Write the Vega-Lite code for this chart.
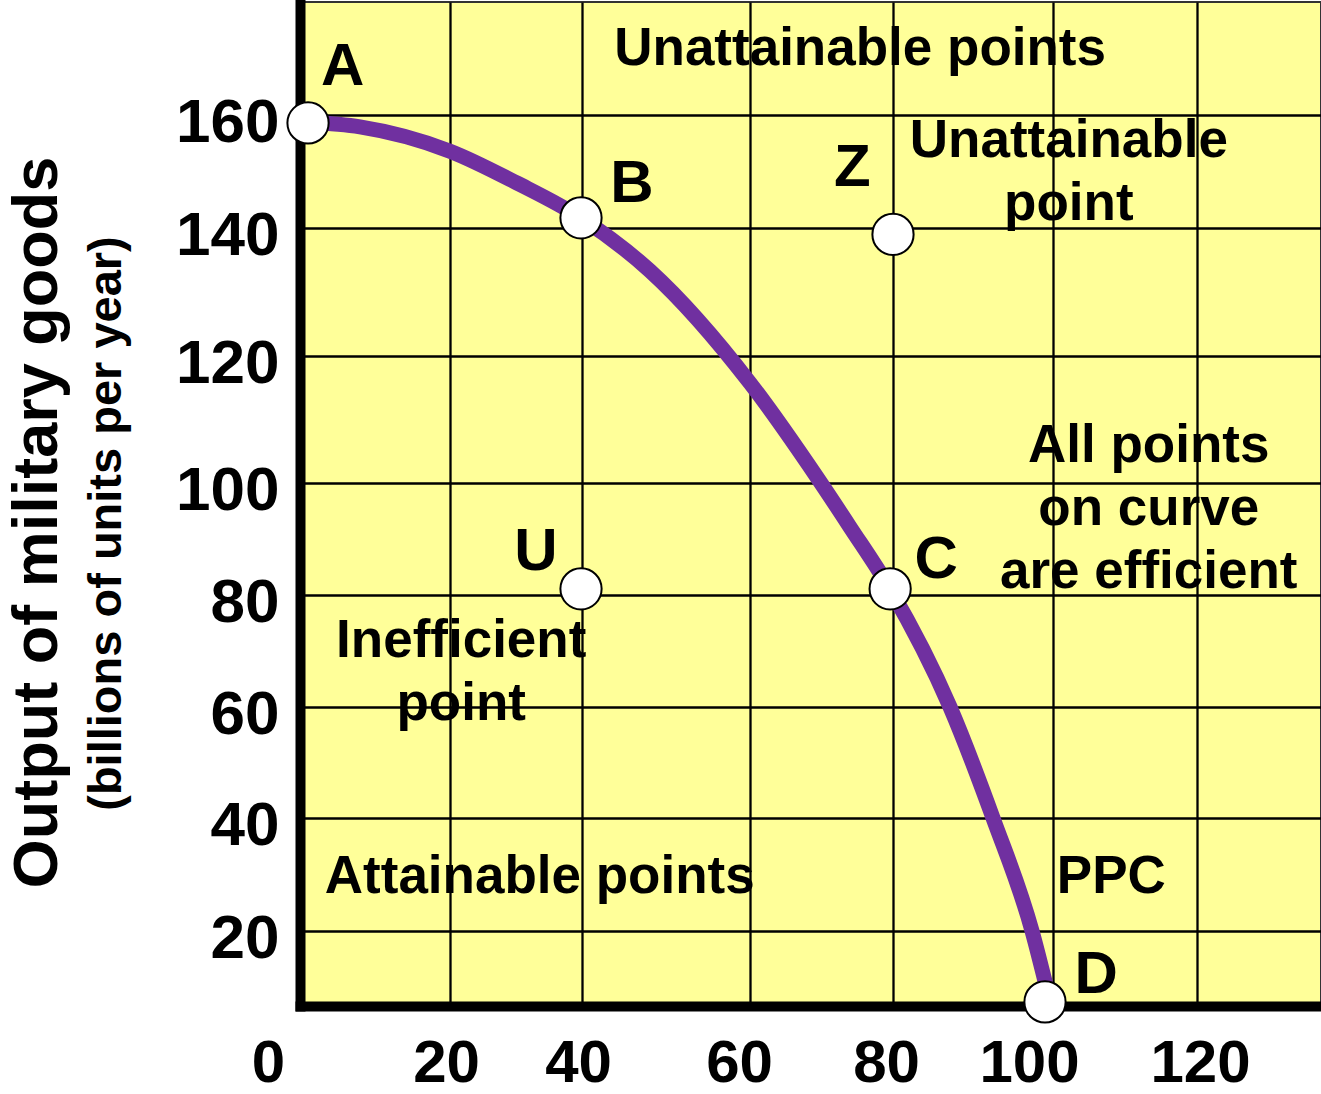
{
  "$schema": "https://vega.github.io/schema/vega-lite/v6.json",
  "width": 1021,
  "height": 1004,
  "autosize": "none",
  "padding": {"left": 300, "top": 2, "right": 0, "bottom": 88},
  "background": "white",
  "config": {
    "font": "Liberation Sans",
    "view": {"fill": "#FFFF99", "stroke": "#333333", "strokeWidth": 2}
  },
  "datasets": {
    "curve": [
      {"x": 1.07, "y": 158.76},
      {"x": 8.0, "y": 157.9},
      {"x": 20, "y": 153.6},
      {"x": 30.15, "y": 147.96},
      {"x": 39.85, "y": 141.77},
      {"x": 48.1, "y": 133.3},
      {"x": 60, "y": 115.75},
      {"x": 69.37, "y": 100.9},
      {"x": 73.99, "y": 92.14},
      {"x": 79.58, "y": 81.07},
      {"x": 87.13, "y": 60},
      {"x": 92.5, "y": 40},
      {"x": 97.38, "y": 20},
      {"x": 99.3, "y": 4.0}
    ],
    "points": [
      {"name": "A", "x": 1.07, "y": 158.6},
      {"name": "B", "x": 39.85, "y": 141.8},
      {"name": "Z", "x": 80, "y": 139.0},
      {"name": "U", "x": 39.85, "y": 81.1},
      {"name": "C", "x": 79.6, "y": 81.1},
      {"name": "D", "x": 99.0, "y": 1.1}
    ],
    "letters": [
      {"label": "A", "x": 5.7, "y": 168.5},
      {"label": "B", "x": 45.95, "y": 147.7},
      {"label": "Z", "x": 74.3, "y": 150.7},
      {"label": "U", "x": 33.0, "y": 87.7},
      {"label": "C", "x": 85.4, "y": 86.25},
      {"label": "D", "x": 106.0, "y": 8.3}
    ],
    "notes": [
      {"text": "Unattainable points", "x": 75.4, "y": 171.7},
      {"text": "Unattainable\npoint", "x": 102.2, "y": 155.4},
      {"text": "All points\non curve\nare efficient", "x": 113.3, "y": 105.83},
      {"text": "Inefficient\npoint", "x": 21.7, "y": 71.79},
      {"text": "Attainable points", "x": 33.6, "y": 29.6},
      {"text": "PPC", "x": 108.1, "y": 29.6}
    ]
  },
  "encoding": {
    "x": {
      "field": "x",
      "type": "quantitative",
      "title": null,
      "scale": {
        "domain": [0, 20, 40, 60, 80, 100, 120, 137],
        "range": [0, 150, 282, 450, 593, 753, 897, 1021],
        "zero": false,
        "nice": false
      },
      "axis": {
        "values": [0, 20, 40, 60, 80, 100, 120],
        "grid": true,
        "gridColor": "black",
        "gridWidth": 2.3,
        "gridOpacity": 1,
        "domain": true,
        "domainColor": "black",
        "domainWidth": 10,
        "domainCap": "square",
        "ticks": false,
        "tickSize": 0,
        "labelFontSize": 60,
        "labelFontWeight": "bold",
        "labelColor": "black",
        "labelPadding": 28,
        "labelBaseline": "top",
        "labelFlush": false,
        "labelOverlap": false,
        "labelOffset": {"expr": "datum.value == 0 ? -32 : datum.value == 60 ? -11 : datum.value == 80 ? -7 : datum.value == 100 ? -24 : datum.value == 120 ? 3 : -4"},
        "title": null
      }
    }
  },
  "layer": [
    {
      "data": {"name": "curve"},
      "mark": {"type": "line", "color": "#7030A0", "strokeWidth": 15, "interpolate": "monotone"},
      "encoding": {
        "y": {
          "field": "y",
          "type": "quantitative",
          "scale": {
            "domain": [0, 20, 40, 60, 80, 100, 120, 140, 160, 180],
            "range": [1004, 929, 816, 705, 593, 481, 354, 226, 113, 0],
            "zero": false,
            "nice": false
          },
          "axis": {
            "orient": "left",
            "values": [20, 40, 60, 80, 100, 120, 140, 160],
            "grid": true,
            "gridColor": "black",
            "gridWidth": 2.3,
            "gridOpacity": 1,
            "domain": true,
            "domainColor": "black",
            "domainWidth": 10,
            "domainCap": "square",
            "ticks": false,
            "tickSize": 0,
            "labelFontSize": 62,
            "labelFontWeight": "bold",
            "labelColor": "black",
            "labelPadding": 21,
            "labelOffset": 7,
            "labelOverlap": false,
            "labelFlush": false,
            "title": "Output of military goods",
            "titleFontSize": 63,
            "titleFontWeight": "bold",
            "titleColor": "black",
            "titleAngle": -90,
            "titleAlign": "center",
            "titleBaseline": "bottom",
            "titleX": -231,
            "titleY": 520
          }
        }
      }
    },
    {
      "data": {"name": "points"},
      "mark": {"type": "point", "shape": "circle", "filled": true, "fill": "white", "stroke": "black", "strokeWidth": 2, "size": 1700, "opacity": 1},
      "encoding": {
        "y": {
          "field": "y",
          "type": "quantitative",
          "scale": {
            "domain": [0, 20, 40, 60, 80, 100, 120, 140, 160, 180],
            "range": [1004, 929, 816, 705, 593, 481, 354, 226, 113, 0],
            "zero": false,
            "nice": false
          },
          "axis": {
            "orient": "left",
            "domain": false,
            "ticks": false,
            "labels": false,
            "grid": false,
            "title": "(billions of units per year)",
            "titleFontSize": 47,
            "titleFontWeight": "bold",
            "titleColor": "black",
            "titleAngle": -90,
            "titleAlign": "center",
            "titleBaseline": "bottom",
            "titleX": -170,
            "titleY": 521
          }
        }
      }
    },
    {
      "data": {"name": "letters"},
      "mark": {"type": "text", "fontSize": 60, "fontWeight": "bold", "color": "black", "align": "center", "baseline": "middle"},
      "encoding": {
        "y": {
          "field": "y",
          "type": "quantitative",
          "scale": {
            "domain": [0, 20, 40, 60, 80, 100, 120, 140, 160, 180],
            "range": [1004, 929, 816, 705, 593, 481, 354, 226, 113, 0],
            "zero": false,
            "nice": false
          },
          "axis": null
        },
        "text": {"field": "label"}
      }
    },
    {
      "data": {"name": "notes"},
      "mark": {"type": "text", "fontSize": 53, "fontWeight": "bold", "color": "black", "align": "center", "baseline": "middle", "lineBreak": "\n", "lineHeight": 63},
      "encoding": {
        "y": {
          "field": "y",
          "type": "quantitative",
          "scale": {
            "domain": [0, 20, 40, 60, 80, 100, 120, 140, 160, 180],
            "range": [1004, 929, 816, 705, 593, 481, 354, 226, 113, 0],
            "zero": false,
            "nice": false
          },
          "axis": null
        },
        "text": {"field": "text"}
      }
    }
  ],
  "resolve": {"axis": {"y": "independent"}}
}
